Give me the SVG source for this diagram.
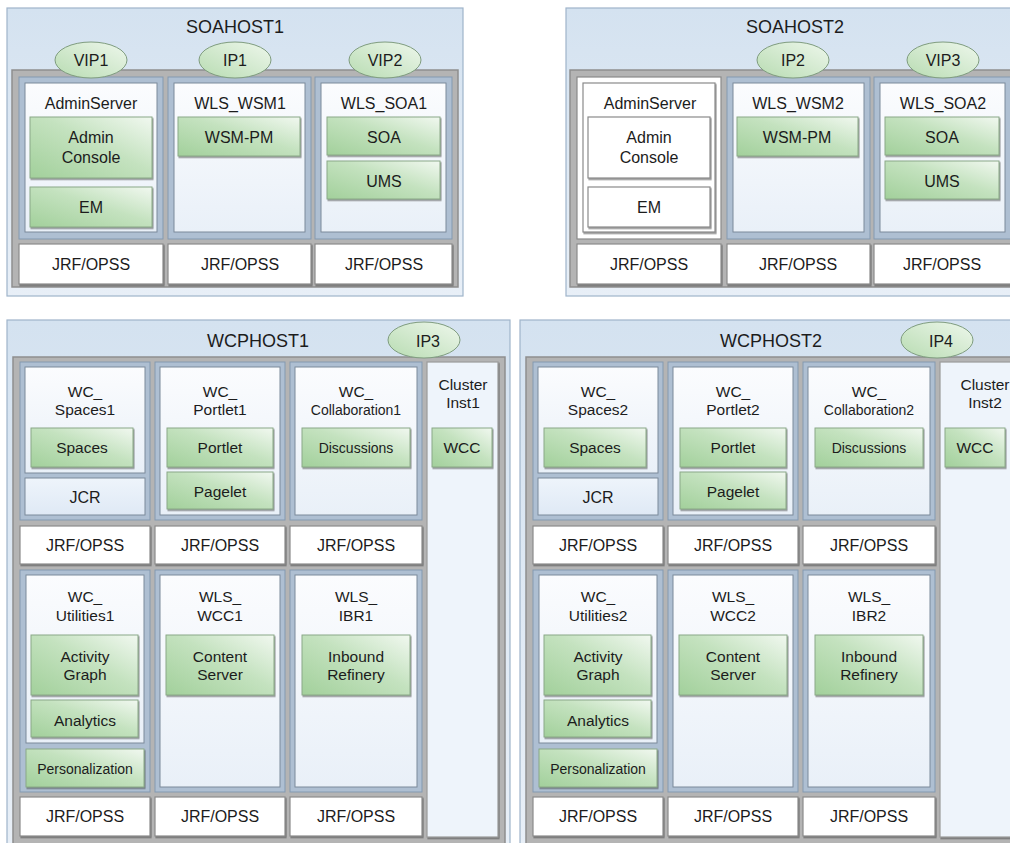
<svg xmlns="http://www.w3.org/2000/svg" width="1010" height="843" viewBox="0 0 1010 843">
<defs>
<linearGradient id="gHost" x1="0" y1="0" x2="0" y2="1"><stop offset="0" stop-color="#d4e2f0"/><stop offset="1" stop-color="#e8eff7"/></linearGradient>
<linearGradient id="gPanel" x1="0" y1="0" x2="0" y2="1"><stop offset="0" stop-color="#fbfcfe"/><stop offset="1" stop-color="#e9f0f8"/></linearGradient>
<linearGradient id="gGreen" x1="0" y1="1" x2="1" y2="0"><stop offset="0" stop-color="#a2d09b"/><stop offset="0.55" stop-color="#c4e2bf"/><stop offset="1" stop-color="#f1f8f0"/></linearGradient>
<linearGradient id="gIp" x1="0" y1="1" x2="1" y2="0"><stop offset="0" stop-color="#b8dcb2"/><stop offset="1" stop-color="#eef7ec"/></linearGradient>
<linearGradient id="gJcr" x1="0" y1="0" x2="0" y2="1"><stop offset="0" stop-color="#eef4fb"/><stop offset="1" stop-color="#dfe9f5"/></linearGradient>
<filter id="sh" x="-10%" y="-10%" width="125%" height="130%"><feDropShadow dx="1" dy="1.5" stdDeviation="0.6" flood-color="#3a3a3a" flood-opacity="0.55"/></filter>
</defs>
<style>
text{font-family:"Liberation Sans",Arial,sans-serif;fill:#1c1c1c;text-anchor:middle}
.t18{font-size:18px}.t16{font-size:16px}.t15{font-size:15.5px}.t14{font-size:14px}
.host{fill:url(#gHost);stroke:#9fb4ca;stroke-width:1.2}
.frame{fill:#b4b4b4;stroke:#8e8e8e;stroke-width:1.5}
.srv{fill:#aebfd2;stroke:#8399b0;stroke-width:1}
.pnl{fill:url(#gPanel);stroke:#7b8a9a;stroke-width:1}
.jcr{fill:url(#gJcr);stroke:#7b8a9a;stroke-width:1}
.jrf{fill:#fff;stroke:#8a8a8a;stroke-width:1.2;filter:url(#sh)}
.comp{fill:url(#gGreen);stroke:#8aa887;stroke-width:1;filter:url(#sh)}
.wsrv{fill:#fff;stroke:#8a8a8a;stroke-width:1.2}
.wpnl{fill:#fff;stroke:#8a8a8a;stroke-width:1.2;filter:url(#sh)}
.wcomp{fill:#fff;stroke:#8a8a8a;stroke-width:1.2;filter:url(#sh)}
.clu{fill:#eef4fb;stroke:#9a9a9a;stroke-width:1.2;filter:url(#sh)}
.ip{fill:url(#gIp);stroke:#7f9c7f;stroke-width:1}
</style>

<!-- SOAHOST1 -->
<g id="soahost1">
<rect class="host" x="7" y="8" width="456" height="288"/>
<text class="t18" x="235" y="33">SOAHOST1</text>
<rect class="frame" x="12" y="70" width="446" height="217"/>
<g id="adminserver1">
<rect class="srv" x="19" y="77" width="144" height="162"/>
<rect class="pnl" x="25" y="83" width="132" height="149"/>
<text class="t16" x="91" y="109">AdminServer</text>
<g id="adminconsole1"><rect class="comp" x="30" y="117" width="122" height="61"/><text class="t16" x="91" y="143">Admin</text><text class="t16" x="91" y="163">Console</text></g>
<g id="em1"><rect class="comp" x="30" y="187" width="122" height="40"/><text class="t16" x="91" y="213">EM</text></g>
</g>
<g id="wls_wsm1">
<rect class="srv" x="168" y="77" width="143" height="162"/>
<rect class="pnl" x="174" y="83" width="131" height="149"/>
<text class="t16" x="240" y="109">WLS_WSM1</text>
<g id="wsmpm1"><rect class="comp" x="178" y="117" width="122" height="39"/><text class="t16" x="239" y="143">WSM-PM</text></g>
</g>
<g id="wls_soa1">
<rect class="srv" x="315" y="77" width="137" height="162"/>
<rect class="pnl" x="321" y="83" width="125" height="149"/>
<text class="t16" x="384" y="109">WLS_SOA1</text>
<g id="soa1"><rect class="comp" x="327" y="117" width="113" height="38"/><text class="t16" x="384" y="143">SOA</text></g>
<g id="ums1"><rect class="comp" x="327" y="161" width="113" height="38"/><text class="t16" x="384" y="187">UMS</text></g>
</g>
<g id="jrf_s1a"><rect class="jrf" x="19" y="244" width="144" height="40"/><text class="t16" x="91" y="270">JRF/OPSS</text></g>
<g id="jrf_s1b"><rect class="jrf" x="168" y="244" width="143" height="40"/><text class="t16" x="240" y="270">JRF/OPSS</text></g>
<g id="jrf_s1c"><rect class="jrf" x="315" y="244" width="137" height="40"/><text class="t16" x="384" y="270">JRF/OPSS</text></g>
<g id="vip1"><ellipse class="ip" cx="91" cy="60" rx="36" ry="18"/><text class="t16" x="91" y="66">VIP1</text></g>
<g id="ip1"><ellipse class="ip" cx="235" cy="60" rx="36" ry="18"/><text class="t16" x="235" y="66">IP1</text></g>
<g id="vip2"><ellipse class="ip" cx="385" cy="60" rx="36" ry="18"/><text class="t16" x="385" y="66">VIP2</text></g>
</g>

<!-- SOAHOST2 -->
<g id="soahost2" transform="translate(559 0)">
<rect class="host" x="7" y="8" width="470" height="288"/>
<text class="t18" x="236" y="33">SOAHOST2</text>
<rect class="frame" x="11" y="70" width="460" height="217"/>
<g id="adminserver2">
<rect class="wsrv" x="18" y="77" width="144" height="162"/>
<rect class="wpnl" x="24" y="83" width="132" height="149"/>
<text class="t16" x="91" y="109">AdminServer</text>
<g id="adminconsole2"><rect class="wcomp" x="29" y="117" width="122" height="61"/><text class="t16" x="90" y="143">Admin</text><text class="t16" x="90" y="163">Console</text></g>
<g id="em2"><rect class="wcomp" x="29" y="187" width="122" height="40"/><text class="t16" x="90" y="213">EM</text></g>
</g>
<g id="wls_wsm2">
<rect class="srv" x="168" y="77" width="143" height="162"/>
<rect class="pnl" x="174" y="83" width="131" height="149"/>
<text class="t16" x="239" y="109">WLS_WSM2</text>
<g id="wsmpm2"><rect class="comp" x="178" y="117" width="121" height="39"/><text class="t16" x="238" y="143">WSM-PM</text></g>
</g>
<g id="wls_soa2">
<rect class="srv" x="315" y="77" width="137" height="162"/>
<rect class="pnl" x="321" y="83" width="125" height="149"/>
<text class="t16" x="384" y="109">WLS_SOA2</text>
<g id="soa2"><rect class="comp" x="326" y="117" width="114" height="38"/><text class="t16" x="383" y="143">SOA</text></g>
<g id="ums2"><rect class="comp" x="326" y="161" width="114" height="38"/><text class="t16" x="383" y="187">UMS</text></g>
</g>
<g id="jrf_s2a"><rect class="jrf" x="18" y="244" width="144" height="40"/><text class="t16" x="90" y="270">JRF/OPSS</text></g>
<g id="jrf_s2b"><rect class="jrf" x="168" y="244" width="143" height="40"/><text class="t16" x="239" y="270">JRF/OPSS</text></g>
<g id="jrf_s2c"><rect class="jrf" x="315" y="244" width="137" height="40"/><text class="t16" x="383" y="270">JRF/OPSS</text></g>
<g id="ip2"><ellipse class="ip" cx="234" cy="60" rx="36" ry="18"/><text class="t16" x="234" y="66">IP2</text></g>
<g id="vip3"><ellipse class="ip" cx="384" cy="60" rx="36" ry="18"/><text class="t16" x="384" y="66">VIP3</text></g>
</g>

<!-- WCPHOST1 -->
<g id="wcphost1">
<rect class="host" x="7" y="320" width="503" height="530"/>
<text class="t18" x="258" y="347">WCPHOST1</text>
<rect class="frame" x="13" y="357" width="492" height="490"/>
<g id="wc_spaces1">
<rect class="srv" x="20" y="362" width="130" height="158"/>
<rect class="pnl" x="25" y="367" width="120" height="106"/>
<text class="t15" x="85" y="397">WC_</text><text class="t15" x="85" y="415">Spaces1</text>
<g id="spaces1"><rect class="comp" x="31" y="428" width="102" height="39"/><text class="t15" x="82" y="453">Spaces</text></g>
<g id="jcr1"><rect class="jcr" x="25" y="478" width="120" height="37"/><text class="t16" x="85" y="503">JCR</text></g>
</g>
<g id="wc_portlet1">
<rect class="srv" x="155" y="362" width="130" height="158"/>
<rect class="pnl" x="160" y="367" width="120" height="148"/>
<text class="t15" x="220" y="397">WC_</text><text class="t15" x="220" y="415">Portlet1</text>
<g id="portlet1"><rect class="comp" x="167" y="428" width="106" height="39"/><text class="t15" x="220" y="453">Portlet</text></g>
<g id="pagelet1"><rect class="comp" x="167" y="472" width="106" height="37"/><text class="t15" x="220" y="497">Pagelet</text></g>
</g>
<g id="wc_collab1">
<rect class="srv" x="290" y="362" width="132" height="158"/>
<rect class="pnl" x="295" y="367" width="122" height="148"/>
<text class="t15" x="356" y="397">WC_</text><text class="t14" x="356" y="415">Collaboration1</text>
<g id="discussions1"><rect class="comp" x="302" y="428" width="108" height="39"/><text class="t14" x="356" y="453">Discussions</text></g>
</g>
<g id="cluster1">
<rect class="clu" x="427" y="362" width="71" height="475"/>
<text class="t15" x="463" y="390">Cluster</text><text class="t15" x="463" y="408">Inst1</text>
<g id="wcc1"><rect class="comp" x="432" y="428" width="60" height="39"/><text class="t15" x="462" y="453">WCC</text></g>
</g>
<g id="jrf_w1a"><rect class="jrf" x="20" y="526" width="130" height="38"/><text class="t16" x="85" y="551">JRF/OPSS</text></g>
<g id="jrf_w1b"><rect class="jrf" x="155" y="526" width="130" height="38"/><text class="t16" x="220" y="551">JRF/OPSS</text></g>
<g id="jrf_w1c"><rect class="jrf" x="290" y="526" width="132" height="38"/><text class="t16" x="356" y="551">JRF/OPSS</text></g>
<g id="wc_utilities1">
<rect class="srv" x="20" y="570" width="130" height="222"/>
<rect class="pnl" x="26" y="575" width="118" height="168"/>
<text class="t15" x="85" y="602">WC_</text><text class="t15" x="85" y="621">Utilities1</text>
<g id="activity1"><rect class="comp" x="31" y="635" width="107" height="60"/><text class="t15" x="85" y="662">Activity</text><text class="t15" x="85" y="680">Graph</text></g>
<g id="analytics1"><rect class="comp" x="31" y="700" width="107" height="37"/><text class="t15" x="85" y="726">Analytics</text></g>
<g id="personalization1"><rect class="comp" x="26" y="749" width="118" height="38"/><text class="t14" x="85" y="774">Personalization</text></g>
</g>
<g id="wls_wcc1">
<rect class="srv" x="155" y="570" width="130" height="222"/>
<rect class="pnl" x="160" y="575" width="120" height="212"/>
<text class="t15" x="220" y="602">WLS_</text><text class="t15" x="220" y="621">WCC1</text>
<g id="content1"><rect class="comp" x="166" y="635" width="108" height="60"/><text class="t15" x="220" y="662">Content</text><text class="t15" x="220" y="680">Server</text></g>
</g>
<g id="wls_ibr1">
<rect class="srv" x="290" y="570" width="132" height="222"/>
<rect class="pnl" x="295" y="575" width="122" height="212"/>
<text class="t15" x="356" y="602">WLS_</text><text class="t15" x="356" y="621">IBR1</text>
<g id="inbound1"><rect class="comp" x="302" y="635" width="108" height="60"/><text class="t15" x="356" y="662">Inbound</text><text class="t15" x="356" y="680">Refinery</text></g>
</g>
<g id="jrf_w1d"><rect class="jrf" x="20" y="797" width="130" height="39"/><text class="t16" x="85" y="822">JRF/OPSS</text></g>
<g id="jrf_w1e"><rect class="jrf" x="155" y="797" width="130" height="39"/><text class="t16" x="220" y="822">JRF/OPSS</text></g>
<g id="jrf_w1f"><rect class="jrf" x="290" y="797" width="132" height="39"/><text class="t16" x="356" y="822">JRF/OPSS</text></g>
<g id="ip3"><ellipse class="ip" cx="424" cy="340" rx="36" ry="18"/><text class="t16" x="428" y="347">IP3</text></g>
</g>

<!-- WCPHOST2 -->
<g id="wcphost2" transform="translate(513 0)">
<rect class="host" x="7" y="320" width="503" height="530"/>
<text class="t18" x="258" y="347">WCPHOST2</text>
<rect class="frame" x="13" y="357" width="492" height="490"/>
<g id="wc_spaces2">
<rect class="srv" x="20" y="362" width="130" height="158"/>
<rect class="pnl" x="25" y="367" width="120" height="106"/>
<text class="t15" x="85" y="397">WC_</text><text class="t15" x="85" y="415">Spaces2</text>
<g id="spaces2"><rect class="comp" x="31" y="428" width="102" height="39"/><text class="t15" x="82" y="453">Spaces</text></g>
<g id="jcr2"><rect class="jcr" x="25" y="478" width="120" height="37"/><text class="t16" x="85" y="503">JCR</text></g>
</g>
<g id="wc_portlet2">
<rect class="srv" x="155" y="362" width="130" height="158"/>
<rect class="pnl" x="160" y="367" width="120" height="148"/>
<text class="t15" x="220" y="397">WC_</text><text class="t15" x="220" y="415">Portlet2</text>
<g id="portlet2"><rect class="comp" x="167" y="428" width="106" height="39"/><text class="t15" x="220" y="453">Portlet</text></g>
<g id="pagelet2"><rect class="comp" x="167" y="472" width="106" height="37"/><text class="t15" x="220" y="497">Pagelet</text></g>
</g>
<g id="wc_collab2">
<rect class="srv" x="290" y="362" width="132" height="158"/>
<rect class="pnl" x="295" y="367" width="122" height="148"/>
<text class="t15" x="356" y="397">WC_</text><text class="t14" x="356" y="415">Collaboration2</text>
<g id="discussions2"><rect class="comp" x="302" y="428" width="108" height="39"/><text class="t14" x="356" y="453">Discussions</text></g>
</g>
<g id="cluster2">
<rect class="clu" x="427" y="362" width="90" height="475"/>
<text class="t15" x="472" y="390">Cluster</text><text class="t15" x="472" y="408">Inst2</text>
<g id="wcc2"><rect class="comp" x="432" y="428" width="60" height="39"/><text class="t15" x="462" y="453">WCC</text></g>
</g>
<g id="jrf_w2a"><rect class="jrf" x="20" y="526" width="130" height="38"/><text class="t16" x="85" y="551">JRF/OPSS</text></g>
<g id="jrf_w2b"><rect class="jrf" x="155" y="526" width="130" height="38"/><text class="t16" x="220" y="551">JRF/OPSS</text></g>
<g id="jrf_w2c"><rect class="jrf" x="290" y="526" width="132" height="38"/><text class="t16" x="356" y="551">JRF/OPSS</text></g>
<g id="wc_utilities2">
<rect class="srv" x="20" y="570" width="130" height="222"/>
<rect class="pnl" x="26" y="575" width="118" height="168"/>
<text class="t15" x="85" y="602">WC_</text><text class="t15" x="85" y="621">Utilities2</text>
<g id="activity2"><rect class="comp" x="31" y="635" width="107" height="60"/><text class="t15" x="85" y="662">Activity</text><text class="t15" x="85" y="680">Graph</text></g>
<g id="analytics2"><rect class="comp" x="31" y="700" width="107" height="37"/><text class="t15" x="85" y="726">Analytics</text></g>
<g id="personalization2"><rect class="comp" x="26" y="749" width="118" height="38"/><text class="t14" x="85" y="774">Personalization</text></g>
</g>
<g id="wls_wcc2">
<rect class="srv" x="155" y="570" width="130" height="222"/>
<rect class="pnl" x="160" y="575" width="120" height="212"/>
<text class="t15" x="220" y="602">WLS_</text><text class="t15" x="220" y="621">WCC2</text>
<g id="content2"><rect class="comp" x="166" y="635" width="108" height="60"/><text class="t15" x="220" y="662">Content</text><text class="t15" x="220" y="680">Server</text></g>
</g>
<g id="wls_ibr2">
<rect class="srv" x="290" y="570" width="132" height="222"/>
<rect class="pnl" x="295" y="575" width="122" height="212"/>
<text class="t15" x="356" y="602">WLS_</text><text class="t15" x="356" y="621">IBR2</text>
<g id="inbound2"><rect class="comp" x="302" y="635" width="108" height="60"/><text class="t15" x="356" y="662">Inbound</text><text class="t15" x="356" y="680">Refinery</text></g>
</g>
<g id="jrf_w2d"><rect class="jrf" x="20" y="797" width="130" height="39"/><text class="t16" x="85" y="822">JRF/OPSS</text></g>
<g id="jrf_w2e"><rect class="jrf" x="155" y="797" width="130" height="39"/><text class="t16" x="220" y="822">JRF/OPSS</text></g>
<g id="jrf_w2f"><rect class="jrf" x="290" y="797" width="132" height="39"/><text class="t16" x="356" y="822">JRF/OPSS</text></g>
<g id="ip4"><ellipse class="ip" cx="424" cy="340" rx="36" ry="18"/><text class="t16" x="428" y="347">IP4</text></g>
</g>
<g id="connectors"/>
</svg>
